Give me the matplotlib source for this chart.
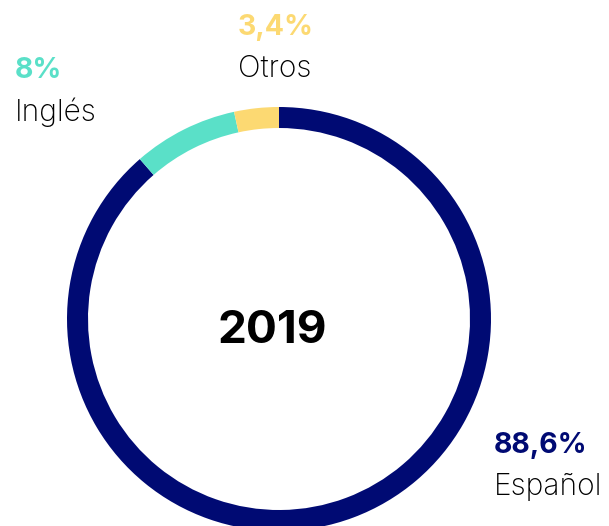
import matplotlib
matplotlib.use("Agg")
import matplotlib.pyplot as plt

# datos
idiomas = ["Español", "Inglés", "Otros"]
valores = [88.6, 8.0, 3.4]
etiquetas_pct = ["88,6%", "8%", "3,4%"]
colores = ["#000a73", "#5ae0c8", "#fcd972"]
anio = "2019"

W, H = 609, 526
fig = plt.figure(figsize=(W / 100, H / 100), dpi=100)
ax = fig.add_axes([0, 0, 1, 1])

cx, cy = 279, H - 319
R = 212
ax.pie(valores, colors=colores, startangle=90, counterclock=False,
       center=(cx, cy), radius=R, frame=True,
       wedgeprops=dict(width=21, linewidth=0))
ax.set_xlim(0, W)
ax.set_ylim(0, H)
ax.set_aspect("equal")
ax.axis("off")

fuente = ["Inter", "DejaVu Sans"]

# posiciones de las etiquetas (px, desde arriba)
pos = {"Español": (494, 453, 495), "Inglés": (15, 78, 121), "Otros": (238, 35, 77)}
for nombre, pct, col in zip(idiomas, etiquetas_pct, colores):
    x, y1, y2 = pos[nombre]
    ax.text(x, H - y1, pct, color=col, fontsize=20.5, fontweight="bold",
            family=fuente, ha="left", va="baseline")
    ax.text(x, H - y2, nombre, color="black", fontsize=21.5, fontweight="light",
            family=fuente, ha="left", va="baseline")

ax.text(272, H - 343, anio, color="black", fontsize=33, fontweight="bold",
        family=fuente, ha="center", va="baseline")

fig.savefig("out.png", dpi=100)
